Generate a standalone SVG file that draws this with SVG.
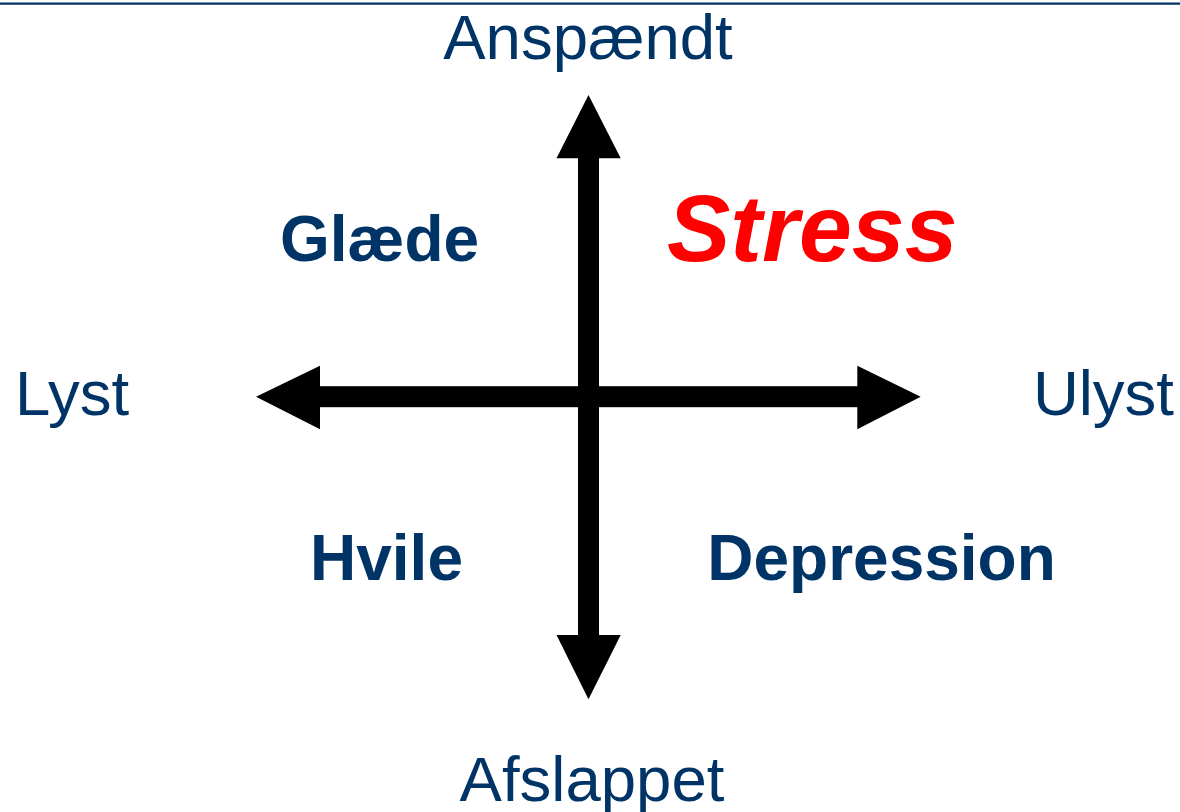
<svg xmlns="http://www.w3.org/2000/svg" width="1180" height="812" viewBox="0 0 1180 812">
<style>
.ax{font-family:"Liberation Sans",Arial,sans-serif;font-size:63.5px;fill:#003366}
.q{font-family:"Liberation Sans",Arial,sans-serif;font-size:64px;font-weight:bold;fill:#003366}
.st{font-family:"Liberation Sans",Arial,sans-serif;font-size:95px;font-weight:bold;font-style:italic;fill:#ff0000}
</style>
<rect x="0" y="0" width="1180" height="812" fill="#ffffff"/>
<line x1="0" y1="3.6" x2="1180" y2="3.6" stroke="#003366" stroke-width="2.2"/>
<g id="connectors" fill="#000000">
<rect x="578" y="156" width="21" height="481"/>
<rect x="318" y="386.2" width="541" height="21"/>
<polygon points="588.5,95 620.7,158.3 556.5,158.3"/>
<polygon points="588.5,699.3 620.7,635 556.5,635"/>
<polygon points="256,396.7 320,365.7 320,429.3"/>
<polygon points="920.7,396.7 857.3,365.7 857.3,429.3"/>
</g>
<g id="anspaendt"><text class="ax" x="588" y="59" text-anchor="middle">Anspændt</text></g>
<g id="afslappet"><text class="ax" x="592" y="801" text-anchor="middle">Afslappet</text></g>
<g id="lyst"><text class="ax" x="15" y="415">Lyst</text></g>
<g id="ulyst"><text class="ax" x="1174" y="415" text-anchor="end">Ulyst</text></g>
<g id="glaede"><text class="q" x="379.5" y="261" text-anchor="middle">Glæde</text></g>
<g id="stress"><text class="st" x="667" y="261">Stress</text></g>
<g id="hvile"><text class="q" x="386.5" y="580" text-anchor="middle">Hvile</text></g>
<g id="depression"><text class="q" x="881.5" y="580" text-anchor="middle">Depression</text></g>
</svg>
